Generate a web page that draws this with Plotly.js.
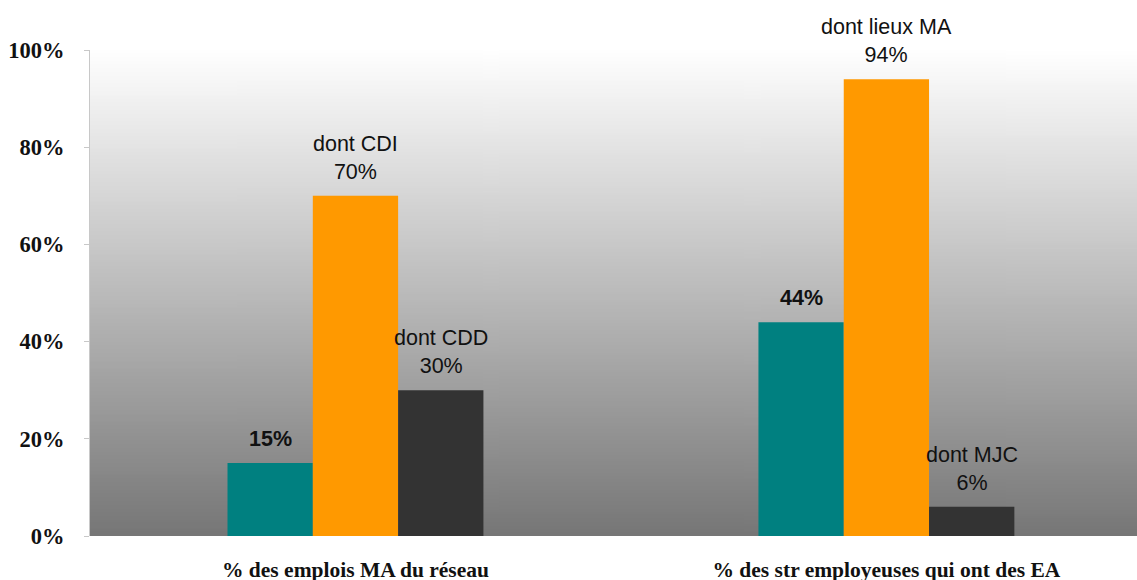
<!DOCTYPE html>
<html>
<head>
<meta charset="utf-8">
<script src="https://cdn.plot.ly/plotly-3.0.1.min.js"></script>
<style>html,body{margin:0;padding:0;background:#fff;}#chart{width:1137px;height:580px;}</style>
</head>
<body>
<div id="chart"></div>
<script>
const categories = ["% des emplois MA du réseau", "% des str employeuses qui ont des EA"];
const mainValues = [15, 44];
const subAValues = [70, 94];
const subALabels = ["dont CDI", "dont lieux MA"];
const subBValues = [30, 6];
const subBLabels = ["dont CDD", "dont MJC"];
const tickVals = [0, 20, 40, 60, 80, 100];
const tickText = ["0%", "20%", "40%", "60%", "80%", "100%"];

const colors = ["#008080", "#FF9900", "#333333"];
const bargap = 0.518;
const barW = (1 - bargap) / 3;

// gradient background image
const cv = document.createElement('canvas');
cv.width = 4; cv.height = 256;
const ctx = cv.getContext('2d');
const g = ctx.createLinearGradient(0, 0, 0, 256);
g.addColorStop(0, '#ffffff');
g.addColorStop(1, '#767676');
ctx.fillStyle = g; ctx.fillRect(0, 0, 4, 256);
const bgURL = cv.toDataURL();

const xIdx = categories.map((c, i) => i);
const traces = [
  {type: 'bar', x: xIdx, y: mainValues, marker: {color: colors[0]}, hoverinfo: 'none'},
  {type: 'bar', x: xIdx, y: subAValues, marker: {color: colors[1]}, hoverinfo: 'none'},
  {type: 'bar', x: xIdx, y: subBValues, marker: {color: colors[2]}, hoverinfo: 'none'}
];

const annotations = [];
const labelFont = {family: 'Liberation Sans, Arial, sans-serif', size: 21.5, color: '#111'};
mainValues.forEach((v, j) => annotations.push({
  x: j - barW, y: v, xref: 'x', yref: 'y', yanchor: 'bottom', yshift: 10, showarrow: false,
  text: '<b>' + v + '%</b>', font: labelFont
}));
subAValues.forEach((v, j) => annotations.push({
  x: j, y: v, xref: 'x', yref: 'y', yanchor: 'bottom', yshift: 10, showarrow: false,
  text: subALabels[j] + '<br>' + v + '%', font: labelFont
}));
subBValues.forEach((v, j) => annotations.push({
  x: j + barW, y: v, xref: 'x', yref: 'y', yanchor: 'bottom', yshift: 10, showarrow: false,
  text: subBLabels[j] + '<br>' + v + '%', font: labelFont
}));

const layout = {
  width: 1137, height: 580,
  margin: {l: 90, r: 0, t: 50, b: 44, pad: 0},
  paper_bgcolor: '#ffffff',
  plot_bgcolor: 'rgba(0,0,0,0)',
  showlegend: false,
  barmode: 'group',
  bargap: bargap,
  bargroupgap: 0,
  images: [{source: bgURL, xref: 'paper', yref: 'paper', x: 0, y: 1, sizex: 1, sizey: 1,
            sizing: 'stretch', layer: 'below', xanchor: 'left', yanchor: 'top'}],
  xaxis: {
    tickmode: 'array', tickvals: xIdx, ticktext: categories,
    range: [-0.5, 1.472], showgrid: false, zeroline: false, showline: false, ticks: '',
    ticklabelstandoff: 18,
    tickfont: {family: 'Liberation Serif, Times New Roman, serif', size: 21.5, color: '#111', weight: 'bold'}
  },
  yaxis: {
    range: [0, 100], tickmode: 'array', tickvals: tickVals, ticktext: tickText,
    showgrid: false, zeroline: false, showline: true, linecolor: '#c8c8c8', linewidth: 1,
    ticks: 'outside', ticklen: 5, tickcolor: '#c8c8c8', ticklabelstandoff: 15,
    tickfont: {family: 'Liberation Serif, Times New Roman, serif', size: 22.5, color: '#111', weight: 'bold'}
  },
  annotations: annotations
};

Plotly.newPlot('chart', traces, layout, {staticPlot: true, displayModeBar: false});
</script>
</body>
</html>
